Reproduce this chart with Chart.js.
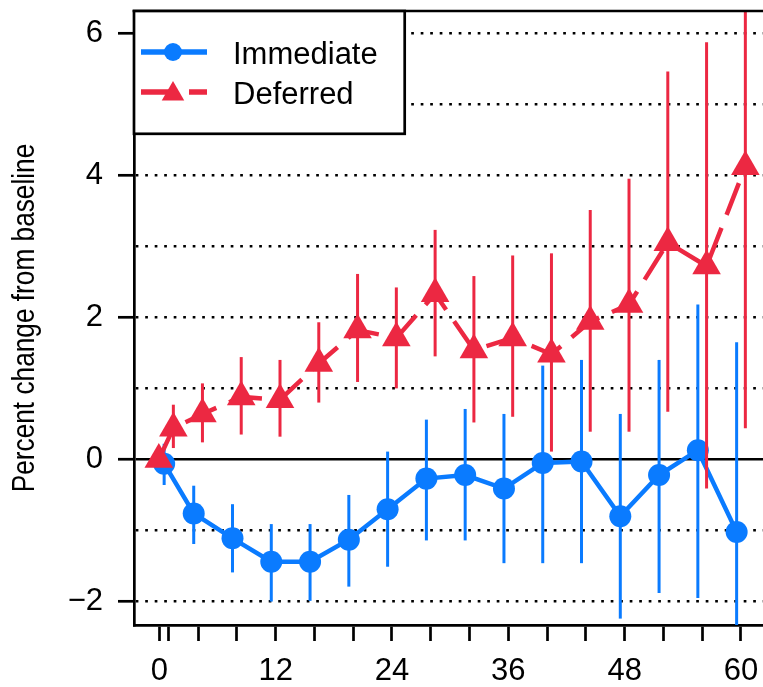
<!DOCTYPE html>
<html>
<head>
<meta charset="utf-8">
<script src="https://cdn.jsdelivr.net/npm/chart.js@4/dist/chart.umd.min.js"></script>
<style>
html, body { margin: 0; padding: 0; background: #fff; }
canvas { display: block; }
</style>
</head>
<body>
<canvas id="chart" width="763" height="687"></canvas>
<script>
// Visit months for each group
const immediateMonths = [0, 4, 8, 12, 16, 20, 24, 28, 32, 36, 40, 44, 48, 52, 56, 60];
const deferredMonths  = [0, 1, 4, 8, 12, 16, 20, 24, 28, 32, 36, 40, 44, 48, 52, 56, 60];

// Mean percent change from baseline, with lower / upper confidence limits
const immediateMean  = [-0.06, -0.76, -1.11, -1.44, -1.44, -1.13, -0.70, -0.27, -0.22, -0.41, -0.05, -0.03, -0.80, -0.22, 0.13, -1.02];
const immediateLower = [-0.36, -1.19, -1.59, -2.00, -1.99, -1.79, -1.51, -1.14, -1.14, -1.46, -1.46, -1.46, -2.24, -1.88, -1.95, -2.40];
const immediateUpper = [0.22, -0.37, -0.63, -0.91, -0.91, -0.50, 0.11, 0.56, 0.71, 0.64, 1.32, 1.40, 0.64, 1.40, 2.18, 1.65];

const deferredMean  = [0.00, 0.44, 0.64, 0.88, 0.84, 1.35, 1.82, 1.71, 2.33, 1.54, 1.71, 1.48, 1.94, 2.18, 3.05, 2.72, 4.12];
const deferredLower = [0.00, 0.16, 0.24, 0.35, 0.32, 0.80, 1.09, 1.00, 1.45, 0.52, 0.60, 0.11, 0.39, 0.39, 0.67, -0.41, 0.44];
const deferredUpper = [0.00, 0.77, 1.07, 1.44, 1.40, 1.93, 2.61, 2.42, 3.23, 2.58, 2.87, 2.90, 3.51, 3.95, 5.46, 5.87, 6.60];

// Axis ticks and labels
const xTickMonths  = [0, 1, 4, 8, 12, 16, 20, 24, 28, 32, 36, 40, 44, 48, 52, 56, 60];
const xLabelMonths = [0, 12, 24, 36, 48, 60];
const yTickValues  = [-2, -1, 0, 1, 2, 3, 4, 5, 6];
const yLabelValues = [-2, 0, 2, 4, 6];
const yTitle = 'Percent change from baseline';

const seriesNames = ['Immediate', 'Deferred'];

const BLUE = '#0A7BFF';
const RED = '#EC2842';
const FONT = "'Liberation Sans', Arial, Helvetica, sans-serif";
const DODGE = 0.45; // side-by-side offset so the two groups' bars don't overlap

Chart.defaults.font.family = FONT;
Chart.defaults.color = '#000';

const immediatePoints = immediateMonths.map((m, i) => ({ x: m === 0 ? m + 0.5 : m - DODGE, y: immediateMean[i] }));
const deferredPoints  = deferredMonths.map((m, i) => ({ x: m === 0 ? m - 0.05 : m + DODGE, y: deferredMean[i] }));

// Vertical confidence-interval bars, drawn just under each series
const errorBars = {
  id: 'errorBars',
  beforeDatasetDraw(chart, args) {
    const ds = chart.data.datasets[args.index];
    if (!ds.lower) return;
    const { ctx, chartArea: a, scales: { x, y } } = chart;
    ctx.save();
    ctx.beginPath();
    ctx.rect(a.left, a.top, a.right - a.left, a.bottom - a.top);
    ctx.clip();
    ctx.strokeStyle = ds.borderColor;
    ctx.lineWidth = 3;
    ctx.setLineDash([]);
    ds.data.forEach((p, i) => {
      if (ds.lower[i] === ds.upper[i]) return;
      const px = x.getPixelForValue(p.x);
      ctx.beginPath();
      ctx.moveTo(px, y.getPixelForValue(ds.lower[i]));
      ctx.lineTo(px, y.getPixelForValue(ds.upper[i]));
      ctx.stroke();
    });
    ctx.restore();
  }
};

// Condensed vertical axis title, centred on the plot height
const axisTitle = {
  id: 'axisTitle',
  afterDraw(chart) {
    const { ctx, chartArea: a } = chart;
    ctx.save();
    ctx.translate(25, (a.top + a.bottom) / 2);
    ctx.rotate(-Math.PI / 2);
    ctx.scale(0.82, 1);
    ctx.fillStyle = '#000';
    ctx.font = '32px ' + FONT;
    ctx.textAlign = 'center';
    ctx.textBaseline = 'middle';
    ctx.fillText(yTitle, 0, 0);
    ctx.restore();
  }
};

// Top frame line and the boxed legend in the upper-left corner
const boxLegend = {
  id: 'boxLegend',
  afterDraw(chart) {
    const { ctx, chartArea: a } = chart;
    ctx.save();
    ctx.strokeStyle = '#000';
    ctx.lineWidth = 2.7;
    ctx.setLineDash([]);
    ctx.beginPath();
    ctx.moveTo(a.left - 1.35, a.top);
    ctx.lineTo(a.right, a.top);
    ctx.stroke();

    const L = a.left, T = a.top, W = 270.7, H = 122.8;
    ctx.fillStyle = '#fff';
    ctx.fillRect(L, T, W, H);
    ctx.strokeRect(L, T, W, H);

    const byName = {};
    chart.data.datasets.forEach(d => { byName[d.label] = d; });
    seriesNames.forEach((name, k) => {
      const d = byName[name];
      const cy = T + 41 + k * 40;
      ctx.strokeStyle = d.borderColor;
      ctx.lineWidth = 5.5;
      ctx.setLineDash(d.borderDash || []);
      ctx.beginPath();
      ctx.moveTo(L + 7, cy);
      ctx.lineTo(L + 73, cy);
      ctx.stroke();
      ctx.setLineDash([]);
      ctx.fillStyle = d.borderColor;
      const mx = L + 39;
      if (d.pointStyle === 'triangle') {
        const r = 13, my = cy + 2;
        ctx.beginPath();
        ctx.moveTo(mx, my - r);
        ctx.lineTo(mx + r * Math.sin(2 * Math.PI / 3), my + r / 2);
        ctx.lineTo(mx - r * Math.sin(2 * Math.PI / 3), my + r / 2);
        ctx.closePath();
        ctx.fill();
      } else {
        ctx.beginPath();
        ctx.arc(mx, cy, 9, 0, 2 * Math.PI);
        ctx.fill();
      }
      ctx.fillStyle = '#000';
      ctx.font = '31px ' + FONT;
      ctx.textBaseline = 'alphabetic';
      ctx.textAlign = 'left';
      ctx.fillText(name, L + 99, cy + 11.5);
    });
    ctx.restore();
  }
};

const fmt = v => (v < 0 ? '\u2212' + Math.abs(v) : String(v));

new Chart(document.getElementById('chart'), {
  type: 'line',
  data: {
    datasets: [
      {
        label: 'Deferred',
        data: deferredPoints,
        lower: deferredLower,
        upper: deferredUpper,
        borderColor: RED,
        backgroundColor: RED,
        borderWidth: 4.5,
        borderDash: [34, 14],
        pointStyle: 'triangle',
        pointRadius: 16.5,
        pointBackgroundColor: RED,
        pointBorderColor: RED,
        pointBorderWidth: 0,
        tension: 0,
        order: 0
      },
      {
        label: 'Immediate',
        data: immediatePoints,
        lower: immediateLower,
        upper: immediateUpper,
        borderColor: BLUE,
        backgroundColor: BLUE,
        borderWidth: 4.5,
        pointStyle: 'circle',
        pointRadius: 11,
        pointBackgroundColor: BLUE,
        pointBorderColor: BLUE,
        pointBorderWidth: 0,
        tension: 0,
        order: 1
      }
    ]
  },
  options: {
    responsive: false,
    animation: false,
    devicePixelRatio: 1,
    events: [],
    layout: { autoPadding: false, padding: { top: 11, left: 0, right: 0, bottom: 0 } },
    plugins: { legend: { display: false }, tooltip: { enabled: false } },
    scales: {
      x: {
        type: 'linear',
        min: -2.61,
        max: 62.27,
        afterBuildTicks: s => { s.ticks = xTickMonths.map(v => ({ value: v })); },
        afterFit: s => { s.height = 62; s.paddingLeft = 0; s.paddingRight = 0; },
        ticks: {
          autoSkip: false,
          maxRotation: 0,
          minRotation: 0,
          padding: 12,
          color: '#000',
          font: { size: 31, family: FONT },
          callback: v => (xLabelMonths.includes(v) ? String(v) : '')
        },
        grid: {
          drawOnChartArea: false,
          drawTicks: true,
          tickLength: 16,
          tickWidth: 2.7,
          tickColor: '#000',
          color: '#000'
        },
        border: { display: true, color: '#000', width: 2.7 }
      },
      y: {
        type: 'linear',
        min: -2.33,
        max: 6.31,
        afterBuildTicks: s => { s.ticks = yTickValues.map(v => ({ value: v })); },
        afterFit: s => { s.width = 134; s.paddingTop = 0; s.paddingBottom = 0; },
        ticks: {
          autoSkip: false,
          padding: 15,
          color: '#000',
          font: { size: 31, family: FONT },
          callback: v => (yLabelValues.includes(v) ? fmt(v) : '')
        },
        grid: {
          drawOnChartArea: true,
          drawTicks: true,
          color: '#000',
          lineWidth: c => (c.tick && c.tick.value === 0 ? 2.5 : 2.6),
          tickLength: 16,
          tickWidth: 2.7,
          tickColor: c => (c.tick && yLabelValues.includes(c.tick.value) ? '#000' : 'rgba(0,0,0,0)')
        },
        border: {
          display: true,
          color: '#000',
          width: 2.7,
          dash: c => (c.tick && c.tick.value === 0 ? [] : [2.7, 6.8])
        }
      }
    }
  },
  plugins: [errorBars, boxLegend, axisTitle]
});
</script>
</body>
</html>
